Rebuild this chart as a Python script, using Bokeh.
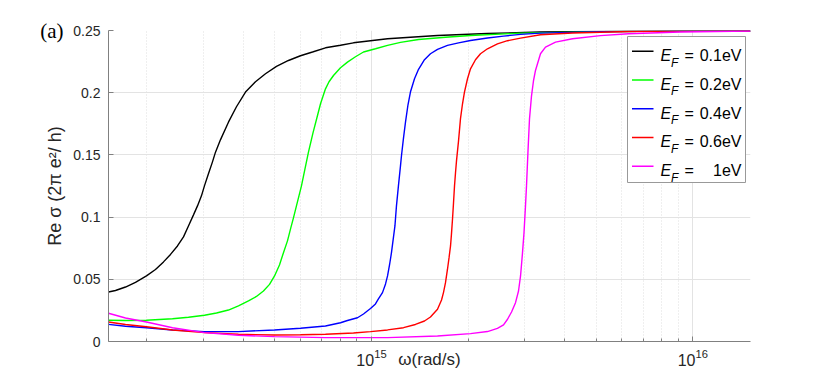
import numpy as np
from bokeh.plotting import figure
from bokeh.models import FixedTicker, NumeralTickFormatter, Label, Range1d, LinearAxis
from bokeh.embed import file_html
from bokeh.resources import INLINE

# ---------------- data ----------------
# angular frequency in units of 1e15 rad/s, Re sigma in units of 2*pi*e^2/h
omega_k = [0.1519, 0.1597, 0.1716, 0.1843, 0.1994, 0.2127, 0.2253, 0.2369, 0.2490, 0.2600,
           0.2694, 0.2793, 0.2874, 0.2957, 0.3021, 0.3109, 0.3200, 0.3270, 0.3388, 0.3588,
           0.3800, 0.4054, 0.4355, 0.4679, 0.5062, 0.5516, 0.6012, 0.6553, 0.7192, 0.8009,
           0.8790, 0.9929, 1.122, 1.322, 1.605, 2.296, 3.357, 5.160, 9.157, 15.12]
sig_k = [0.0398, 0.0410, 0.0438, 0.0475, 0.0527, 0.0579, 0.0640, 0.0700, 0.0768, 0.0841,
         0.0929, 0.1018, 0.1090, 0.1171, 0.1251, 0.1348, 0.1444, 0.1522, 0.1621, 0.1763,
         0.1887, 0.2005, 0.2088, 0.2152, 0.2212, 0.2259, 0.2297, 0.2327, 0.2361, 0.2381,
         0.2401, 0.2418, 0.2434, 0.2446, 0.2460, 0.2476, 0.2488, 0.2492, 0.2496, 0.2497]

omega_g = [0.1519, 0.1716, 0.1994, 0.2403, 0.2694, 0.3021, 0.3294, 0.3588, 0.3855, 0.4142,
           0.4385, 0.4611, 0.4816, 0.4992, 0.5172, 0.5322, 0.5477, 0.5596, 0.5717, 0.5841,
           0.5947, 0.6055, 0.6209, 0.6366, 0.6576, 0.6792, 0.6941, 0.7192, 0.7376, 0.7617,
           0.8009, 0.8419, 0.8917, 0.9443, 1.029, 1.122, 1.231, 1.401, 1.699, 2.033,
           2.910, 5.160, 9.157, 15.12]
sig_g = [0.0171, 0.0169, 0.0171, 0.0183, 0.0195, 0.0211, 0.0229, 0.0253, 0.0286, 0.0326,
         0.0362, 0.0406, 0.0459, 0.0527, 0.0615, 0.0714, 0.0809, 0.0903, 0.0994, 0.1090,
         0.1171, 0.1251, 0.1388, 0.1522, 0.1677, 0.1817, 0.1911, 0.2031, 0.2088, 0.2138,
         0.2200, 0.2246, 0.2289, 0.2327, 0.2353, 0.2380, 0.2405, 0.2428, 0.2446, 0.2460,
         0.2479, 0.2491, 0.2495, 0.2497]

omega_b = [0.1519, 0.1716, 0.1994, 0.2403, 0.3021, 0.3855, 0.4992, 0.6012, 0.7192, 0.8009,
           0.8419, 0.9046, 0.9443, 0.9929, 1.029, 1.051, 1.082, 1.106, 1.122, 1.138,
           1.154, 1.171, 1.183, 1.196, 1.213, 1.231, 1.240, 1.258, 1.276, 1.299,
           1.322, 1.361, 1.401, 1.462, 1.526, 1.605, 1.724, 1.866, 2.033, 2.296,
           2.576, 2.910, 3.357, 5.160, 9.157, 15.12]
sig_b = [0.0138, 0.0123, 0.0111, 0.0093, 0.0079, 0.0079, 0.0093, 0.0106, 0.0125, 0.0151,
         0.0169, 0.0191, 0.0221, 0.0265, 0.0302, 0.0342, 0.0393, 0.0463, 0.0527, 0.0615,
         0.0714, 0.0841, 0.0929, 0.1090, 0.1251, 0.1412, 0.1495, 0.1637, 0.1763, 0.1903,
         0.2005, 0.2112, 0.2188, 0.2265, 0.2313, 0.2349, 0.2380, 0.2401, 0.2420, 0.2440,
         0.2455, 0.2469, 0.2479, 0.2491, 0.2495, 0.2497]

omega_r = [0.1519, 0.1716, 0.1994, 0.2403, 0.3021, 0.3855, 0.4992, 0.6012, 0.7192, 0.8790,
           0.9929, 1.122, 1.258, 1.370, 1.462, 1.526, 1.605, 1.652, 1.675, 1.699,
           1.724, 1.743, 1.762, 1.774, 1.787, 1.800, 1.813, 1.826, 1.839, 1.866,
           1.892, 1.920, 1.947, 1.990, 2.033, 2.107, 2.184, 2.296, 2.466, 2.651,
           2.910, 3.357, 4.222, 6.308, 9.157, 15.12]
sig_r = [0.0157, 0.0137, 0.0119, 0.0093, 0.0071, 0.0058, 0.0052, 0.0054, 0.0058, 0.0068,
         0.0079, 0.0093, 0.0111, 0.0137, 0.0165, 0.0197, 0.0259, 0.0334, 0.0393, 0.0471,
         0.0581, 0.0672, 0.0768, 0.0865, 0.0983, 0.1114, 0.1251, 0.1356, 0.1452, 0.1613,
         0.1790, 0.1911, 0.2005, 0.2112, 0.2192, 0.2265, 0.2313, 0.2353, 0.2393, 0.2418,
         0.2439, 0.2466, 0.2480, 0.2492, 0.2495, 0.2497]

omega_m = [0.1519, 0.1716, 0.1994, 0.2403, 0.3021, 0.3855, 0.4992, 0.7192, 1.122, 1.605,
           2.033, 2.296, 2.466, 2.576, 2.651, 2.728, 2.807, 2.868, 2.910, 2.951,
           2.983, 3.015, 3.037, 3.070, 3.103, 3.148, 3.193, 3.239, 3.357, 3.480,
           3.739, 4.222, 5.160, 6.308, 9.157, 15.12]
sig_m = [0.0227, 0.0189, 0.0157, 0.0111, 0.0071, 0.0050, 0.0039, 0.0031, 0.0031, 0.0044,
         0.0063, 0.0080, 0.0105, 0.0133, 0.0179, 0.0237, 0.0312, 0.0406, 0.0527, 0.0712,
         0.0873, 0.1090, 0.1251, 0.1533, 0.1790, 0.1975, 0.2096, 0.2179, 0.2313, 0.2367,
         0.2407, 0.2434, 0.2459, 0.2474, 0.2488, 0.2496]

OMEGA_UNIT = 1e15  # rad/s

series_x = [omega_k, omega_g, omega_b, omega_r, omega_m]
series_y = [sig_k, sig_g, sig_b, sig_r, sig_m]
colors = ["#000000", "#00ff00", "#0000ff", "#ff0000", "#ff00ff"]
ef_labels = ["0.1eV", "0.2eV", "0.4eV", "0.6eV", "1eV"]

x_major = [1e15, 1e16]
x_minor = [m * 10.0 ** e for e in (14, 15) for m in range(2, 10)]
y_ticks = [0, 0.05, 0.1, 0.15, 0.2, 0.25]

X_LO, X_HI = 1.519e14, 1.512e16
Y_LO, Y_HI = 0.0, 0.25

# ---------------- layout ----------------
FL, FT, FW, FH = 108, 30, 642, 311


def px_x(cx):
    lo, hi = np.log10(X_LO), np.log10(X_HI)
    return 10 ** (lo + (cx - FL) / FW * (hi - lo))


def px_y(cy):
    return Y_HI - (cy - FT) / FH * (Y_HI - Y_LO)


p = figure(frame_width=FW, frame_height=FH, x_axis_type="log",
           x_range=Range1d(X_LO, X_HI), y_range=Range1d(Y_LO, Y_HI),
           output_backend="svg", toolbar_location=None,
           min_border_left=FL, min_border_top=FT, min_border_right=64, min_border_bottom=27)
p.outline_line_color = None
p.background_fill_color = "white"
p.border_fill_color = "white"

xt = FixedTicker(ticks=x_major, minor_ticks=x_minor)
p.xaxis.ticker = xt
p.xgrid.ticker = xt
p.yaxis.ticker = FixedTicker(ticks=y_ticks)
p.ygrid.ticker = FixedTicker(ticks=y_ticks)
p.yaxis.formatter = NumeralTickFormatter(format="0.[00]")

AX = "#808080"
for ax in (p.xaxis, p.yaxis):
    ax.axis_line_color = AX
    ax.major_tick_line_color = AX
    ax.minor_tick_line_color = AX
    ax.major_tick_in = 5
    ax.major_tick_out = 0
    ax.minor_tick_in = 3
    ax.minor_tick_out = 0
    ax.major_label_text_font = "Liberation Sans"
    ax.major_label_text_color = "#262626"
p.yaxis.major_label_text_font_size = "14px"
p.xaxis.major_label_text_font_size = "16px"
p.yaxis.minor_tick_line_color = None
p.xaxis.major_label_standoff = 7
p.yaxis.major_label_standoff = 8

p.yaxis.axis_label = "Re σ (2π e²/ h)"
p.yaxis.axis_label_text_font = "Liberation Sans"
p.yaxis.axis_label_text_font_size = "18px"
p.yaxis.axis_label_text_font_style = "normal"
p.yaxis.axis_label_text_color = "#262626"
p.yaxis.axis_label_standoff = 5

# x-axis label sits on the same row as the tick labels, as in the reference
p.xaxis.axis_label = "ω(rad/s)"
p.xaxis.axis_label_text_font = "Liberation Sans"
p.xaxis.axis_label_text_font_size = "17px"
p.xaxis.axis_label_text_font_style = "normal"
p.xaxis.axis_label_text_color = "#262626"
p.xaxis.axis_label_standoff = -19

# panel tag "(a)" placed at the level of the top tick via an extra, bare axis
tag_axis = LinearAxis(ticker=FixedTicker(ticks=[0.25]), major_label_overrides={0.25: "(a)"},
                      axis_line_color=None, major_tick_line_color=None,
                      minor_tick_line_color=None, major_label_standoff=-27,
                      major_label_text_font="Liberation Serif",
                      major_label_text_font_size="21px", major_label_text_color="#000000")
p.add_layout(tag_axis, "left")

p.xgrid.grid_line_color = "#e3e3e3"
p.xgrid.minor_grid_line_color = "#dedede"
p.xgrid.minor_grid_line_dash = "1 2"
p.ygrid.grid_line_color = "#e3e3e3"

for xs, ys, c in zip(series_x, series_y, colors):
    p.line([v * OMEGA_UNIT for v in xs], ys, line_color=c, line_width=1.4)

# legend box
p.quad(left=[px_x(627)], right=[px_x(745)], top=[px_y(36)], bottom=[px_y(182)],
       fill_color="white", line_color="#999999", line_width=1)
row_base = [55 + i * 28.75 for i in range(len(colors))]
p.segment(x0=[px_x(631.5)] * len(colors), x1=[px_x(653)] * len(colors),
          y0=[px_y(b - 4.3) for b in row_base], y1=[px_y(b - 4.3) for b in row_base],
          line_color=colors, line_width=1.5)
for b, lab in zip(row_base, ef_labels):
    p.add_layout(Label(x=px_x(660), y=px_y(b), text="E", text_font="Liberation Sans",
                       text_font_style="italic", text_font_size="16px", text_color="#000000",
                       text_baseline="alphabetic", text_align="left"))
    p.add_layout(Label(x=px_x(670.5), y=px_y(b + 7), text="F", text_font="Liberation Sans",
                       text_font_style="italic", text_font_size="12px", text_color="#000000",
                       text_baseline="alphabetic", text_align="left"))
    p.add_layout(Label(x=px_x(684), y=px_y(b), text="=", text_font="Liberation Sans",
                       text_font_size="16px", text_color="#000000",
                       text_baseline="alphabetic", text_align="left"))
    p.add_layout(Label(x=px_x(741), y=px_y(b), text=lab, text_font="Liberation Sans",
                       text_font_size="16px", text_color="#000000",
                       text_baseline="alphabetic", text_align="right"))

open("out.html", "w").write(file_html(p, INLINE))
